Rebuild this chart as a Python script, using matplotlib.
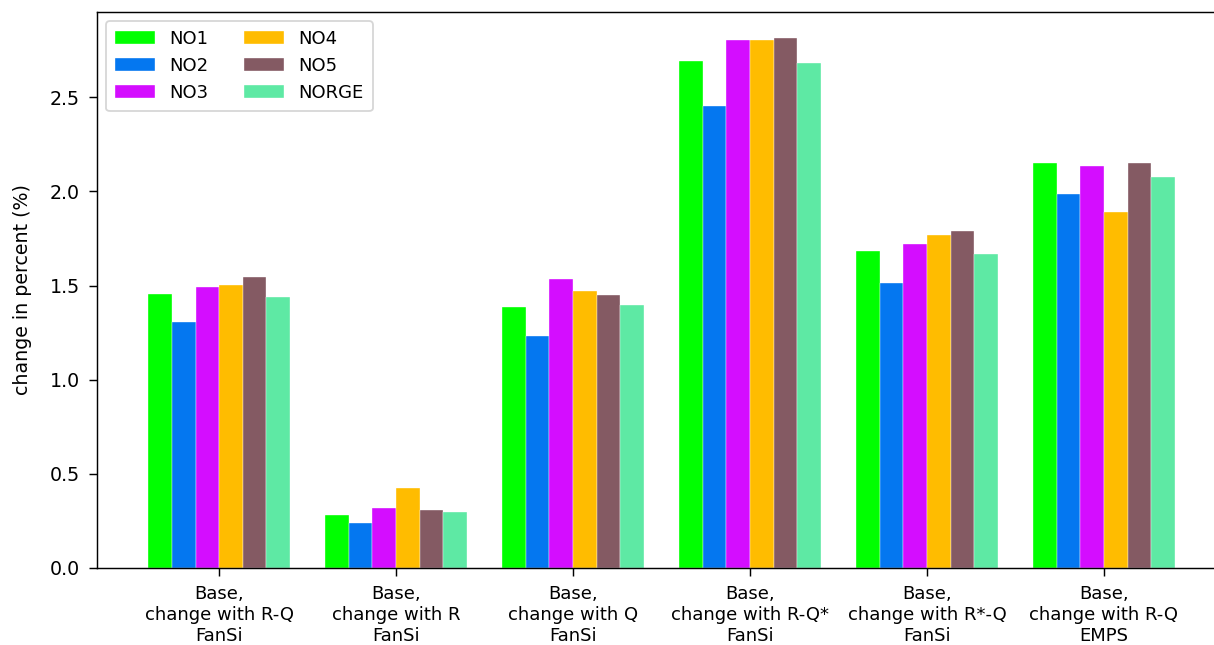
import matplotlib.pyplot as plt
import numpy as np

# scenarios on the x axis
scenarios = ['Base,\nchange with R-Q\nFanSi',
             'Base,\nchange with R\nFanSi',
             'Base,\nchange with Q\nFanSi',
             'Base,\nchange with R-Q*\nFanSi',
             'Base,\nchange with R*-Q\nFanSi',
             'Base,\nchange with R-Q\nEMPS']

regions = ['NO1', 'NO2', 'NO3', 'NO4', 'NO5', 'NORGE']

# change in percent per region and scenario
no1 = [1.453, 0.281, 1.385, 2.695, 1.683, 2.153]
no2 = [1.304, 0.237, 1.231, 2.454, 1.515, 1.985]
no3 = [1.490, 0.318, 1.534, 2.805, 1.723, 2.134]
no4 = [1.504, 0.425, 1.470, 2.803, 1.768, 1.888]
no5 = [1.545, 0.308, 1.449, 2.812, 1.787, 2.153]
norge = [1.438, 0.297, 1.396, 2.684, 1.667, 2.075]

colors = ['#00ff00', '#0477f0', '#d40dff', '#ffbc00', '#845a63', '#5ee9a4']

series = [no1, no2, no3, no4, no5, norge]

fig = plt.figure(figsize=(1214 / 130, 645 / 130), dpi=130)
ax = fig.add_axes([0.0799, 0.1194, 0.930, 0.862])

x = np.arange(len(scenarios))
w = 0.8 / len(series)
for i, (vals, name) in enumerate(zip(series, regions)):
    ax.bar(x - 0.4 + w * (i + 0.5), vals, width=w, color=colors[i],
           edgecolor='white', linewidth=0.2, label=name)

ax.set_xticks(x)
ax.set_xticklabels(scenarios)
ax.tick_params(length=4.5, pad=5)
ax.tick_params(axis='y', labelsize=10.5)
ax.set_ylabel('change in percent (%)', fontsize=10.5, labelpad=10)
ax.legend(ncol=2, loc='upper left', handlelength=2.2, borderpad=0.5)

plt.savefig('out.png', dpi=130)
